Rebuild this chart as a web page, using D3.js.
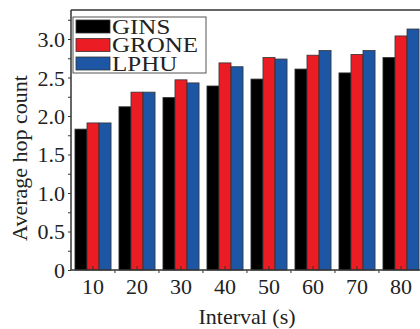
<!DOCTYPE html>
<html>
<head>
<meta charset="utf-8">
<script src="https://cdn.jsdelivr.net/npm/d3@7"></script>
<style>
  body { margin: 0; background: #fff; overflow: hidden; }
  svg text { font-family: "Times New Roman", Times, "Liberation Serif", Tinos, serif !important; fill: #222; }
</style>
</head>
<body>
<div id="chart"></div>
<script>
// data
const intervals = ['10', '20', '30', '40', '50', '60', '70', '80'];
const seriesNames = ['GINS', 'GRONE', 'LPHU'];
const gins  = [1.83, 2.12, 2.24, 2.39, 2.48, 2.61, 2.56, 2.76];
const grone = [1.91, 2.31, 2.47, 2.69, 2.76, 2.79, 2.80, 3.04];
const lphu  = [1.91, 2.31, 2.43, 2.64, 2.74, 2.85, 2.85, 3.13];
const yTicks = [0, 0.5, 1.0, 1.5, 2.0, 2.5, 3.0];
const colors = ['#000000', '#ec1c24', '#1d56a5'];

const values = [gins, grone, lphu];
const table = intervals.map((k, i) => ({
    key: k,
    vals: seriesNames.map((s, j) => ({name: s, value: values[j][i]}))
}));

const W = 420, H = 329;
const plotLeft = 71, plotTop = 10, plotBottom = 270;

const svg = d3.select("#chart")
    .append("svg")
    .attr("width", W)
    .attr("height", H);

// scales
const x0 = d3.scaleBand()
    .domain(intervals)
    .range([plotLeft, plotLeft + 8 * 44])
    .paddingInner(0.18)
    .paddingOuter(0.09);

const x1 = d3.scaleBand()
    .domain(seriesNames)
    .range([0, x0.bandwidth()]);

const y = d3.scaleLinear()
    .domain([0, 3.377])
    .range([plotBottom, plotTop]);

const color = d3.scaleOrdinal().domain(seriesNames).range(colors);

// bars
svg.append("g")
    .selectAll("g")
    .data(table)
    .join("g")
    .attr("transform", d => `translate(${x0(d.key)},0)`)
    .selectAll("rect")
    .data(d => d.vals)
    .join("rect")
    .attr("x", d => x1(d.name))
    .attr("y", d => y(d.value))
    .attr("width", x1.bandwidth())
    .attr("height", d => y(0) - y(d.value))
    .attr("fill", d => color(d.name))
    .attr("stroke", "#333")
    .attr("stroke-width", 0.8);

// top frame line
svg.append("line")
    .attr("x1", plotLeft).attr("x2", W + 5)
    .attr("y1", plotTop).attr("y2", plotTop)
    .attr("stroke", "#333").attr("stroke-width", 1.5);

// y axis
const yAxis = svg.append("g")
    .attr("transform", `translate(${plotLeft},0)`)
    .call(d3.axisLeft(y).tickValues(d3.range(0, 3.3, 0.25)).tickSize(3).tickSizeOuter(0)
        .tickFormat(d => yTicks.some(t => Math.abs(t - d) < 1e-6) ? (d === 0 ? '0' : d3.format('.1f')(d)) : ''));
yAxis.attr("font-family", null);
yAxis.select(".domain").attr("stroke", "#333").attr("stroke-width", 1.5)
    .attr("d", `M0,${plotBottom}V${plotTop}`);
yAxis.selectAll(".tick line").attr("stroke", "#333");
yAxis.selectAll(".tick text")
    .attr("x", -6)
    .attr("dy", "0.34em")
    .style("font-size", "22px");

// x axis
const xAxis = svg.append("g")
    .attr("transform", `translate(0,${plotBottom})`)
    .call(d3.axisBottom(x0).tickSize(-4).tickSizeOuter(0));
xAxis.attr("font-family", null);
xAxis.select(".domain").attr("stroke", "#333").attr("stroke-width", 1.5)
    .attr("d", `M${plotLeft},0H${W + 5}`);
xAxis.selectAll(".tick line").attr("stroke", "#333");
xAxis.selectAll(".tick text")
    .attr("y", 8)
    .attr("dy", "0.71em")
    .style("font-size", "22px");

// minor ticks between groups
svg.append("g")
    .selectAll("line")
    .data(intervals.slice(1))
    .join("line")
    .attr("x1", d => x0(d) - 4)
    .attr("x2", d => x0(d) - 4)
    .attr("y1", plotBottom)
    .attr("y2", plotBottom + 3)
    .attr("stroke", "#333");

// axis titles
svg.append("text")
    .attr("transform", `translate(27,158) rotate(-90)`)
    .attr("text-anchor", "middle")
    .style("font-size", "22px")
    .text("Average hop count");

svg.append("text")
    .attr("x", 247)
    .attr("y", 324)
    .attr("text-anchor", "middle")
    .style("font-size", "22px")
    .text("Interval (s)");

// legend
const legend = svg.append("g").attr("transform", "translate(73,17)");
legend.append("rect")
    .attr("width", 133)
    .attr("height", 56)
    .attr("fill", "#fff")
    .attr("stroke", "#555")
    .attr("stroke-width", 1);

const items = legend.selectAll("g.item")
    .data(seriesNames)
    .join("g")
    .attr("class", "item")
    .attr("transform", (d, i) => `translate(3,${3 + i * 18.5})`);

items.append("rect")
    .attr("width", 34)
    .attr("height", 13)
    .attr("fill", d => color(d))
    .attr("stroke", "#333")
    .attr("stroke-width", 0.8);

items.append("text")
    .attr("transform", "translate(36,13.5) scale(1.19,1)")
    .style("font-size", "21px")
    .text(d => d);
</script>
</body>
</html>
